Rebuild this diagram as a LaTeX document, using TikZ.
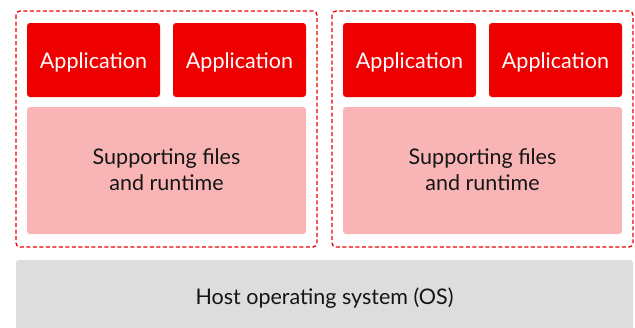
\documentclass[tikz,border=0pt]{standalone}
\usepackage{fontspec}
\setmainfont{Lato}
\definecolor{appred}{HTML}{EE0000}
\definecolor{suppink}{HTML}{F9B5B5}
\definecolor{hostgray}{HTML}{DDDDDD}
\definecolor{txt}{HTML}{151515}
\begin{document}
\begin{tikzpicture}[x=1pt,y=-1pt,
  txtfont/.style={font=\fontsize{21.5}{26}\selectfont,inner sep=0pt,anchor=base},
  appbox/.style={fill=appred,rounded corners=3pt},
  supbox/.style={fill=suppink,rounded corners=3pt},
  hostbox/.style={fill=hostgray,rounded corners=3pt},
  applabel/.style={txtfont,text=white},
  darklabel/.style={txtfont,text=txt,align=center},
  dashbox/.style={draw=appred,dash pattern=on 4pt off 2.5pt,line width=1.3pt,rounded corners=4pt}]
\useasboundingbox (0,0) rectangle (635,327);
% container 1
\draw[dashbox] (16,11) rectangle (317,247);
\fill[appbox] (27,23) rectangle (160,97);
\node[applabel] (a1) at (93.5,68) {Application};
\fill[appbox] (173,23) rectangle (306,97);
\node[applabel] (a2) at (239.5,68) {Application};
\fill[supbox] (27,107) rectangle (306,234);
\node[darklabel] (s1) at (166.5,190) {Supporting files\\and runtime};
% container 2
\draw[dashbox] (332,11) rectangle (633,247);
\fill[appbox] (343,23) rectangle (476,97);
\node[applabel] (a3) at (409.5,68) {Application};
\fill[appbox] (489,23) rectangle (622,97);
\node[applabel] (a4) at (555.5,68) {Application};
\fill[supbox] (343,107) rectangle (622,234);
\node[darklabel] (s2) at (482.5,190) {Supporting files\\and runtime};
% host
\fill[hostbox] (16,260) rectangle (633,335);
\node[darklabel] (h) at (324.5,304) {Host operating system (OS)};
\end{tikzpicture}
\end{document}
